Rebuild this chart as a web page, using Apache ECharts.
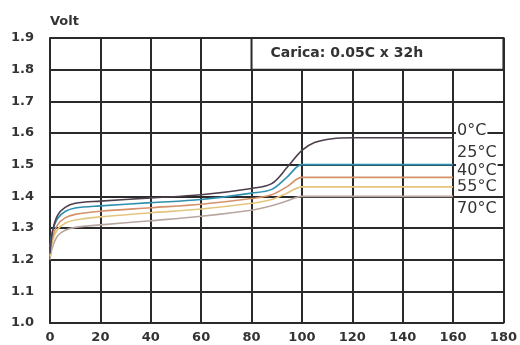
<!DOCTYPE html>
<html>
<head>
<meta charset="utf-8">
<script src="https://cdn.jsdelivr.net/npm/echarts@6/dist/echarts.min.js"></script>
<style>
  html, body { margin: 0; padding: 0; background: #fff; }
  #chart { width: 520px; height: 345px; }
</style>
</head>
<body>
<div id="chart"></div>
<script>
// ore di carica (asse x)
const hours = [0, 1, 3, 6, 10, 20, 40, 60, 80, 88, 94, 100, 105, 112, 120, 160]
// tensione per temperatura
const v0 = [1.22, 1.29, 1.34, 1.365, 1.378, 1.385, 1.395, 1.405, 1.425, 1.44, 1.49, 1.545, 1.57, 1.582, 1.585, 1.585]
const v25 = [1.24, 1.29, 1.33, 1.352, 1.363, 1.37, 1.38, 1.39, 1.41, 1.422, 1.46, 1.5, 1.5, 1.5, 1.5, 1.5]
const v40 = [1.22, 1.27, 1.31, 1.332, 1.343, 1.353, 1.364, 1.375, 1.393, 1.405, 1.43, 1.46, 1.46, 1.46, 1.46, 1.46]
const v55 = [1.21, 1.26, 1.295, 1.315, 1.325, 1.335, 1.348, 1.36, 1.378, 1.39, 1.41, 1.43, 1.43, 1.43, 1.43, 1.43]
const v70 = [1.2, 1.24, 1.275, 1.293, 1.302, 1.31, 1.323, 1.337, 1.356, 1.37, 1.385, 1.4, 1.4, 1.4, 1.4, 1.4]
const names = ['0°C', '25°C', '40°C', '55°C', '70°C']
const colors = ['#4d3f4c', '#2f8fae', '#d4916a', '#e3c57f', '#b7a79f']
const labelShift = [-7, -12, -6, 0, 13]
const boxText = 'Carica: 0.05C x 32h'

const chart = echarts.init(document.getElementById('chart'))
const allV = [v0, v25, v40, v55, v70]

const series = allV.map((vals, i) => ({
  name: names[i],
  type: 'line',
  data: hours.map((h, k) => [h, vals[k]]),
  smooth: 0.35,
  symbol: 'none',
  z: 5 - i,
  lineStyle: { color: colors[i], width: 1.6 },
  endLabel: {
    show: true,
    formatter: names[i],
    color: '#333',
    fontSize: 16,
    fontFamily: 'DejaVu Sans',
    distance: 3,
    offset: [0, labelShift[i]],
    backgroundColor: '#fff',
    padding: [0, 1]
  }
}))

// riquadro con la condizione di carica
series.push({
  type: 'line',
  data: [],
  markArea: {
    silent: true,
    itemStyle: { color: '#fff', borderColor: '#2a2a2a', borderWidth: 2 },
    label: {
      show: true,
      position: 'insideLeft',
      distance: 20,
      formatter: boxText,
      color: '#333',
      fontWeight: 'bold',
      fontSize: 14,
      fontFamily: 'DejaVu Sans'
    },
    data: [[{ xAxis: 80, yAxis: 1.9 }, { xAxis: 180, yAxis: 1.8 }]]
  }
})

const axisText = { color: '#333', fontWeight: 'bold', fontSize: 13, fontFamily: 'DejaVu Sans' }
const gridLine = { show: true, lineStyle: { color: '#2a2a2a', width: 2 } }

chart.setOption({
  animation: false,
  grid: { left: 50, right: 10, top: 38, bottom: 22 },
  xAxis: {
    type: 'value',
    min: 0,
    max: 180,
    interval: 20,
    axisLine: { show: true, lineStyle: { color: '#2a2a2a', width: 2 } },
    axisTick: { show: false },
    axisLabel: Object.assign({ margin: 8 }, axisText),
    splitLine: gridLine
  },
  yAxis: {
    type: 'value',
    min: 1.0,
    max: 1.9,
    interval: 0.1,
    name: 'Volt',
    nameGap: 10,
    nameTextStyle: { color: '#333', fontWeight: 'bold', fontSize: 13, fontFamily: 'DejaVu Sans', align: 'left' },
    axisLine: { show: true, lineStyle: { color: '#2a2a2a', width: 2 } },
    axisTick: { show: false },
    axisLabel: Object.assign({ margin: 16, formatter: v => v.toFixed(1) }, axisText),
    splitLine: gridLine
  },
  series: series
})
</script>
</body>
</html>
